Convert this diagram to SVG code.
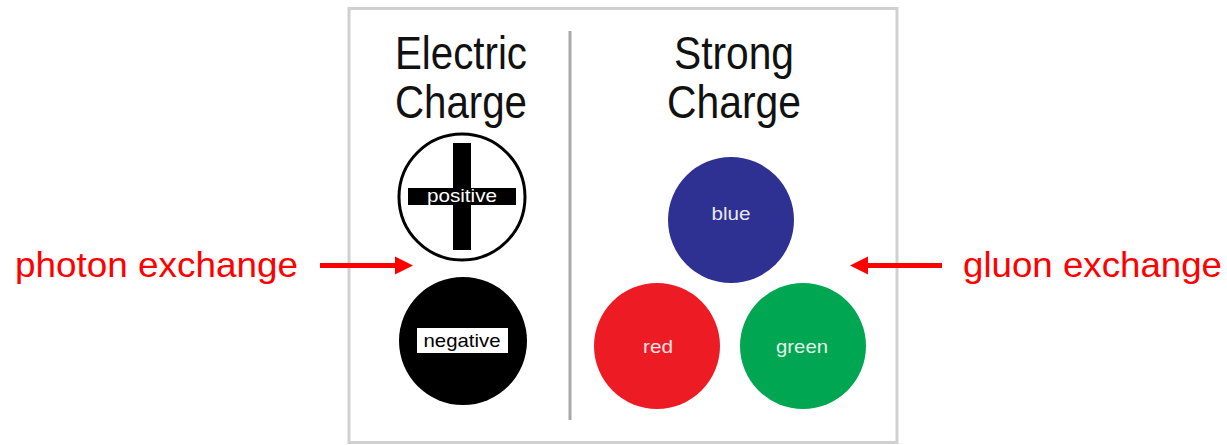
<svg xmlns="http://www.w3.org/2000/svg" width="1227" height="445" viewBox="0 0 1227 445">
<style>
.head{font-family:"Liberation Sans",Arial,sans-serif;font-size:46px;fill:#111;text-anchor:middle}
.lbl{font-family:"Liberation Sans",Arial,sans-serif;font-size:19px;text-anchor:middle}
.red{font-family:"Liberation Sans",Arial,sans-serif;font-size:35px;fill:#ff0000}
.arrow{stroke:#ff0000;stroke-width:5;fill:none}
.ahead{fill:#ff0000}
</style>
<rect width="1227" height="445" fill="#ffffff"/>
<rect x="349" y="8.5" width="548" height="434" fill="#ffffff" stroke="#d0d0d0" stroke-width="3"/>
<line x1="570" y1="31" x2="570" y2="420" stroke="#a8a8a8" stroke-width="3"/>
<g id="heading-electric">
<text class="head" x="461" y="69" textLength="132" lengthAdjust="spacingAndGlyphs">Electric</text>
<text class="head" x="461" y="118" textLength="132" lengthAdjust="spacingAndGlyphs">Charge</text>
</g>
<g id="heading-strong">
<text class="head" x="734" y="69" textLength="120" lengthAdjust="spacingAndGlyphs">Strong</text>
<text class="head" x="734" y="118" textLength="134" lengthAdjust="spacingAndGlyphs">Charge</text>
</g>
<g id="positive">
<circle cx="462" cy="197" r="63" fill="#ffffff" stroke="#000" stroke-width="3"/>
<rect x="453" y="143" width="18" height="107" fill="#000"/>
<rect x="408" y="188" width="108" height="17" fill="#000"/>
<text class="lbl" x="462" y="202" fill="#ffffff" textLength="70" lengthAdjust="spacingAndGlyphs">positive</text>
</g>
<g id="negative">
<circle cx="463" cy="341" r="64" fill="#000"/>
<rect x="417" y="328" width="91" height="25" fill="#ffffff"/>
<text class="lbl" x="462" y="347" fill="#000" textLength="77" lengthAdjust="spacingAndGlyphs">negative</text>
</g>
<g id="blue">
<circle cx="731" cy="220" r="63" fill="#2e3192"/>
<text class="lbl" x="731" y="220" fill="#e8e8f4" textLength="39" lengthAdjust="spacingAndGlyphs">blue</text>
</g>
<g id="red">
<circle cx="657" cy="346" r="63" fill="#ed1c24"/>
<text class="lbl" x="658" y="353" fill="#fbe4e4" textLength="30" lengthAdjust="spacingAndGlyphs">red</text>
</g>
<g id="green">
<circle cx="803" cy="346" r="63" fill="#00a651"/>
<text class="lbl" x="802" y="353" fill="#e2f4ea" textLength="52" lengthAdjust="spacingAndGlyphs">green</text>
</g>
<g id="photon-label">
<text class="red" x="15" y="277" textLength="283" lengthAdjust="spacingAndGlyphs">photon exchange</text>
</g>
<g id="gluon-label">
<text class="red" x="963" y="277" textLength="259" lengthAdjust="spacingAndGlyphs">gluon exchange</text>
</g>
<g id="connectors">
<line class="arrow" x1="320" y1="265.5" x2="397" y2="265.5"/>
<polygon class="ahead" points="395,256.5 413,265.5 395,274.5"/>
<line class="arrow" x1="942" y1="265.5" x2="866" y2="265.5"/>
<polygon class="ahead" points="868,256.5 850,265.5 868,274.5"/>
</g>
</svg>
